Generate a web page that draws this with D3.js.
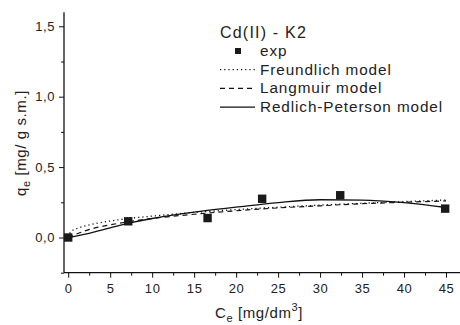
<!DOCTYPE html>
<html>
<head>
<meta charset="utf-8">
<script src="https://cdn.jsdelivr.net/npm/d3@7"></script>
<style>
  body { margin: 0; background: #fff; }
  svg text { font-family: "Liberation Sans", Arial, sans-serif; fill: #222; }
</style>
</head>
<body>
<svg id="chart" width="460" height="325"></svg>
<script>
// experimental points
const expC = [0, 7.15, 16.6, 23.1, 32.4, 44.9];
const expQ = [0.0, 0.115, 0.138, 0.275, 0.30, 0.205];

// model curves
const freundC = [0, 0.3, 1, 2, 3, 5, 7.5, 10, 15, 20, 25, 30, 35, 40, 45];
const freundQ = [0, 0.04, 0.063, 0.082, 0.096, 0.117, 0.137, 0.152, 0.178, 0.198, 0.215, 0.23, 0.243, 0.255, 0.266];
const langC = [0, 1, 2, 3, 5, 7.5, 10, 15, 20, 25, 30, 35, 40, 45];
const langQ = [0, 0.025, 0.047, 0.065, 0.09, 0.115, 0.135, 0.165, 0.19, 0.21, 0.225, 0.24, 0.25, 0.26];
const rpC = [0, 2.5, 5, 7.5, 10, 15, 20, 25, 30, 35, 40, 45];
const rpQ = [0, 0.03, 0.068, 0.105, 0.135, 0.18, 0.215, 0.248, 0.268, 0.266, 0.247, 0.213];

const xMajor = [0, 5, 10, 15, 20, 25, 30, 35, 40, 45];
const xMinor = [2.5, 7.5, 12.5, 17.5, 22.5, 27.5, 32.5, 37.5, 42.5, 47.5];
const yMajor = [0, 0.5, 1.0, 1.5];
const yMinor = [-0.25, 0.25, 0.75, 1.25];

const legendTitle = "Cd(II) - K2";
const legendItems = [
  { label: "exp", kind: "square" },
  { label: "Freundlich model", kind: "line", dash: "1.2,3" },
  { label: "Langmuir model", kind: "line", dash: "5,4" },
  { label: "Redlich-Peterson model", kind: "line", dash: null }
];

const svg = d3.select("#chart");
const x = d3.scaleLinear().domain([-0.5, 47.5]).range([64, 467]);
const y = d3.scaleLinear().domain([-0.25, 1.6]).range([272.7, 12.2]);
const fmt = (v) => d3.format(".1f")(v).replace(".", ",");

// axes
const xAxis = svg.append("g").attr("transform", "translate(0,272.7)");
xAxis.call(d3.axisBottom(x).tickValues(xMajor).tickSize(5).tickPadding(6).tickFormat(d3.format("d")));
xAxis.append("g").call(d3.axisBottom(x).tickValues(xMinor).tickSize(3).tickFormat(""));
const yAxis = svg.append("g").attr("transform", "translate(64,0)");
yAxis.call(d3.axisLeft(y).tickValues(yMajor).tickSize(5).tickPadding(4).tickFormat(fmt));
yAxis.append("g").call(d3.axisLeft(y).tickValues(yMinor).tickSize(3).tickFormat(""));
svg.selectAll(".domain").attr("stroke", "#111").attr("stroke-width", 1.3);
svg.selectAll(".tick line").attr("stroke", "#111").attr("stroke-width", 1);
svg.selectAll(".tick text").style("font-size", "13px").style("letter-spacing", "0.6px").attr("fill", "#333");
// keep only one axis line per axis
xAxis.selectAll("g > .domain").filter((d, i) => i > 0).remove();
yAxis.selectAll("g > .domain").filter((d, i) => i > 0).remove();
xAxis.select(".domain").attr("d", `M64,0H467`);
yAxis.select(".domain").attr("d", `M0,272.7V12.2`);

// axis titles
const xt = svg.append("text").attr("x", 259).attr("y", 318).attr("text-anchor", "middle")
  .style("font-size", "15px").style("letter-spacing", "0.6px");
xt.append("tspan").text("C");
xt.append("tspan").attr("dy", 4).style("font-size", "11px").text("e");
xt.append("tspan").attr("dy", -4).text(" [mg/dm");
xt.append("tspan").attr("dy", -7).style("font-size", "11px").text("3");
xt.append("tspan").attr("dy", 7).text("]");

const yt = svg.append("text").attr("transform", "translate(26,143) rotate(-90)").attr("text-anchor", "middle")
  .style("font-size", "15px").style("letter-spacing", "0.6px");
yt.append("tspan").text("q");
yt.append("tspan").attr("dy", 4).style("font-size", "11px").text("e");
yt.append("tspan").attr("dy", -4).text(" [mg/ g s.m.]");

// model curves
const line = d3.line().x((d) => x(d[0])).y((d) => y(d[1])).curve(d3.curveMonotoneX);
const drawCurve = (cs, qs, dash, w) => {
  svg.append("path").datum(cs.map((c, i) => [c, qs[i]]))
    .attr("d", line).attr("fill", "none").attr("stroke", "#111")
    .attr("stroke-width", w).attr("stroke-dasharray", dash);
};
drawCurve(freundC, freundQ, "1.2,3", 1.3);
drawCurve(langC, langQ, "5,4", 1.2);
drawCurve(rpC, rpQ, null, 1.3);

// experimental squares
svg.append("g").selectAll("rect").data(expC.map((c, i) => [c, expQ[i]])).join("rect")
  .attr("x", (d) => x(d[0]) - 4.2).attr("y", (d) => y(d[1]) - 4.2)
  .attr("width", 8.4).attr("height", 8.4).attr("fill", "#1a1a1a");

// legend
const lg = svg.append("g");
lg.append("text").attr("x", 220).attr("y", 38).style("font-size", "16px").style("letter-spacing", "1.2px").text(legendTitle);
legendItems.forEach((item, i) => {
  const cy = 51 + i * 18.7;
  if (item.kind === "square") {
    lg.append("rect").attr("x", 235).attr("y", cy - 3).attr("width", 6).attr("height", 6).attr("fill", "#1a1a1a");
  } else {
    lg.append("line").attr("x1", 220).attr("x2", 255).attr("y1", cy).attr("y2", cy)
      .attr("stroke", "#111").attr("stroke-width", 1.2).attr("stroke-dasharray", item.dash);
  }
  lg.append("text").attr("x", 260).attr("y", cy + 5).style("font-size", "15.3px").style("letter-spacing", "0.9px").text(item.label);
});
</script>
</body>
</html>
